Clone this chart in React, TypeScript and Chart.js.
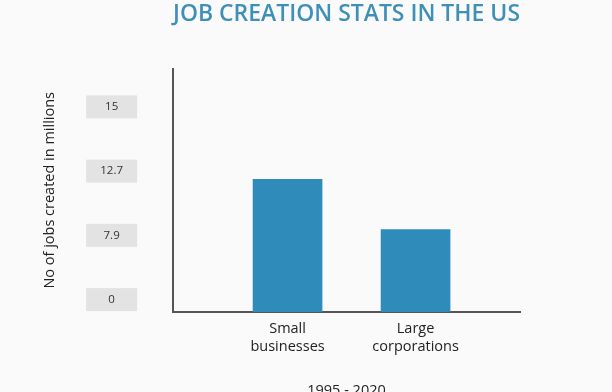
import React, { useEffect, useRef } from "react";
import { Chart, registerables } from "chart.js";

Chart.register(...registerables);

const chartTitle = "JOB CREATION STATS IN THE US";
const yAxisTitle = "No of jobs created in millions";
const xAxisTitle = "1995 - 2020";
const categories: string[][] = [["Small", "businesses"], ["Large", "corporations"]];
const jobsMillions = [12.7, 7.9];
const yTickLabels = ["15", "12.7", "7.9", "0"];

const FONT = "'Open Sans', 'DejaVu Sans', sans-serif";

const labelBoxes = {
  id: "labelBoxes",
  beforeDraw(chart: any) {
    const ctx = chart.ctx;
    ctx.save();
    ctx.fillStyle = "#fafafa";
    ctx.fillRect(0, 0, chart.width, chart.height);
    const s = chart.scales.idx;
    const items = s.getLabelItems();
    ctx.fillStyle = "#e3e3e3";
    items.forEach((it: any) => {
      const [x, y] = it.options.translation;
      ctx.fillRect(x - 25.5, y - 11.5, 51, 23);
    });
    ctx.restore();
  },
};

export default function App() {
  const ref = useRef<HTMLCanvasElement>(null);
  useEffect(() => {
    if (!ref.current) return;
    const chart = new Chart(ref.current, {
      type: "bar",
      data: {
        datasets: [
          {
            data: jobsMillions.map((v, i) => ({ x: i + 1, y: v })),
            backgroundColor: "#2e8bba",
            borderWidth: 0,
            barThickness: 69,
          },
        ],
      },
      options: {
        animation: false,
        responsive: false,
        layout: { padding: { left: 0, right: 92, top: 0, bottom: 0 } },
        plugins: {
          legend: { display: false },
          tooltip: { enabled: false },
          title: {
            display: true,
            text: chartTitle,
            fullSize: false,
            color: "#3f90b8",
            font: { family: FONT, size: 23, weight: "600" },
            padding: { top: 1, bottom: 40 },
          },
        },
        scales: {
          x: {
            type: "linear",
            offset: false,
            min: 0.105,
            max: 2.816,
            grid: { display: false, drawTicks: false, offset: false },
            border: { display: true, color: "#555", width: 2 },
            afterBuildTicks: (s: any) => {
              s.ticks = categories.map((_, i) => ({ value: i + 1 }));
            },
            afterFit: (s: any) => {
              s.height = 108;
            },
            ticks: {
              padding: 7,
              color: "#222",
              font: { family: FONT, size: 14.5, lineHeight: 1.3 },
              callback: (v: any) => categories[Math.round(v) - 1] ?? "",
            },
            title: {
              display: true,
              text: xAxisTitle,
              color: "#222",
              font: { family: FONT, size: 14.5 },
              padding: { top: 0, bottom: 20 },
            },
          },
          y: {
            type: "linear",
            position: "left",
            weight: 0,
            min: 0,
            max: 23.3,
            grid: { display: false, drawTicks: false },
            border: { display: true, color: "#555", width: 2 },
            ticks: { display: false },
            afterFit: (s: any) => {
              s.width = 0;
            },
          },
          idx: {
            type: "linear",
            position: "left",
            weight: 1,
            reverse: true,
            min: -0.596,
            max: 3.193,
            grid: { display: false, drawTicks: false },
            border: { display: false },
            afterBuildTicks: (s: any) => {
              s.ticks = yTickLabels.map((_, i) => ({ value: i }));
            },
            afterFit: (s: any) => {
              s.width = 173;
            },
            ticks: {
              crossAlign: "center",
              padding: 50,
              color: "#333",
              font: { family: FONT, size: 11.5 },
              callback: (v: any) => yTickLabels[Math.round(v)] ?? "",
            },
            title: {
              display: true,
              text: yAxisTitle,
              color: "#222",
              font: { family: FONT, size: 14.5 },
              padding: { top: 41, bottom: 0 },
            },
          },
        },
      } as any,
      plugins: [labelBoxes],
    });
    return () => chart.destroy();
  }, []);
  return (
    <div
      style={{
        position: "absolute",
        left: 0,
        top: 0,
        width: 612,
        height: 392,
        overflow: "hidden",
        background: "#fafafa",
      }}
    >
      <canvas ref={ref} width={612} height={420} style={{ display: "block" }} />
    </div>
  );
}
